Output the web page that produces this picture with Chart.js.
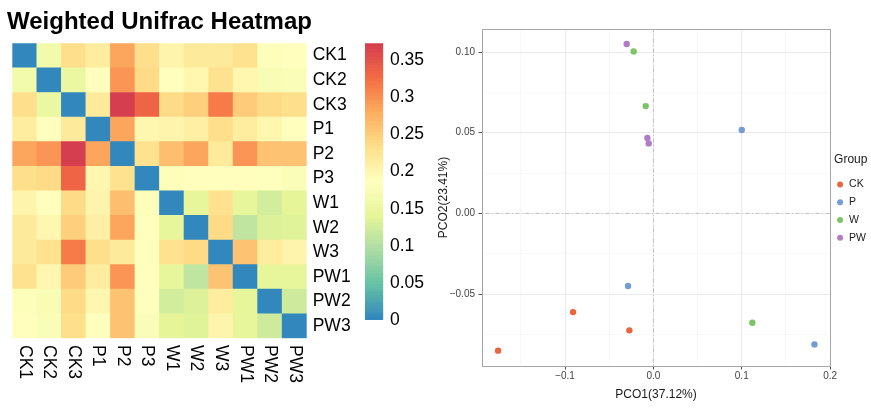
<!DOCTYPE html>
<html><head><meta charset="utf-8">
<script src="https://cdn.jsdelivr.net/npm/chart.js@4.4.1/dist/chart.umd.min.js"></script>
<style>
html,body{margin:0;padding:0;background:#fff;width:871px;height:420px;overflow:hidden;position:relative;}
canvas{position:absolute;top:0;}
#heat{left:0;} #bar{left:355px;} #pcoa{left:430px;}
</style></head><body>
<canvas id="heat" width="350" height="420" style="width:350px;height:420px"></canvas>
<canvas id="bar" width="95" height="420" style="width:95px;height:420px"></canvas>
<canvas id="pcoa" width="446" height="420" style="width:446px;height:420px"></canvas>
<script>
// ---------------- data ----------------
const sampleLabels = ['CK1','CK2','CK3','P1','P2','P3','W1','W2','W3','PW1','PW2','PW3'];
const distCK1 = [0,     0.163, 0.232, 0.213, 0.285, 0.232, 0.205, 0.218, 0.220, 0.228, 0.180, 0.188];
const distCK2 = [0.163, 0,     0.150, 0.190, 0.298, 0.238, 0.190, 0.200, 0.230, 0.200, 0.172, 0.178];
const distCK3 = [0.232, 0.150, 0,     0.217, 0.370, 0.335, 0.237, 0.248, 0.314, 0.252, 0.237, 0.233];
const distP1  = [0.213, 0.190, 0.217, 0,     0.285, 0.200, 0.205, 0.210, 0.233, 0.215, 0.200, 0.190];
const distP2  = [0.285, 0.298, 0.370, 0.285, 0,     0.228, 0.262, 0.287, 0.217, 0.298, 0.260, 0.260];
const distP3  = [0.232, 0.238, 0.335, 0.200, 0.228, 0,     0.182, 0.190, 0.190, 0.188, 0.185, 0.178];
const distW1  = [0.205, 0.190, 0.237, 0.205, 0.262, 0.182, 0,     0.145, 0.228, 0.145, 0.125, 0.140];
const distW2  = [0.218, 0.200, 0.248, 0.210, 0.287, 0.190, 0.145, 0,     0.237, 0.110, 0.132, 0.138];
const distW3  = [0.220, 0.230, 0.314, 0.233, 0.217, 0.190, 0.228, 0.237, 0,     0.258, 0.215, 0.205];
const distPW1 = [0.228, 0.200, 0.252, 0.215, 0.298, 0.188, 0.145, 0.110, 0.258, 0,     0.145, 0.143];
const distPW2 = [0.180, 0.172, 0.237, 0.200, 0.260, 0.185, 0.125, 0.132, 0.215, 0.145, 0,     0.123];
const distPW3 = [0.188, 0.178, 0.233, 0.190, 0.260, 0.178, 0.140, 0.138, 0.205, 0.143, 0.123, 0];
const distanceRows = [distCK1, distCK2, distCK3, distP1, distP2, distP3, distW1, distW2, distW3, distPW1, distPW2, distPW3];

const colorMax = 0.373;
const colorbarTicks = [0, 0.05, 0.1, 0.15, 0.2, 0.25, 0.3, 0.35];

const groupNames = ['CK', 'P', 'W', 'PW'];
const ckX = [-0.1758, -0.0909, -0.0272];
const ckY = [-0.0851, -0.0612, -0.0725];
const pX  = [0.1000, -0.0287, 0.1823];
const pY  = [0.0517, -0.0450, -0.0812];
const wX  = [-0.0223, -0.0087, 0.1120];
const wY  = [0.1004, 0.0665, -0.0678];
const pwX = [-0.0302, -0.0068, -0.0053];
const pwY = [0.1050, 0.0467, 0.0434];

const xRange = [-0.194, 0.2];
const yRange = [-0.0946, 0.1143];
const xMajorTicks = [-0.1, 0, 0.1, 0.2];
const xMinorTicks = [-0.15, -0.05, 0.05, 0.15];
const yMajorTicks = [-0.05, 0, 0.05, 0.1];
const yMinorTicks = [-0.075, -0.025, 0.025, 0.075];

// ---------------- styles ----------------
const FONT = '"Liberation Sans", Arial, Helvetica, sans-serif';
const spectralStops = ['#3288BD','#66C2A5','#ABDDA4','#E6F598','#FFFFBF','#FEE08B','#FDAE61','#F46D43','#D53E4F'];
const groupColors = ['#EA663F', '#739CD5', '#7DC465', '#B07CC6'];

function hexToRgb(h){ const n = parseInt(h.slice(1),16); return [(n>>16)&255,(n>>8)&255,n&255]; }
const stopRgb = spectralStops.map(hexToRgb);
function ramp(t){
  const s = Math.max(0, Math.min(1, t)) * (stopRgb.length - 1);
  const i = Math.min(stopRgb.length - 2, Math.floor(s));
  const f = s - i, a = stopRgb[i], b = stopRgb[i+1];
  return 'rgb(' + [0,1,2].map(j => Math.round(a[j] + (b[j]-a[j])*f)).join(',') + ')';
}
const nColors = 100;
function colorFor(v){
  let k = Math.floor(v / colorMax * nColors);
  k = Math.max(0, Math.min(nColors - 1, k));
  return ramp(k / (nColors - 1));
}

// ---------------- heatmap ----------------
const heatDatasets = sampleLabels.map((_, k) => {
  const r = sampleLabels.length - 1 - k;
  return {
    label: sampleLabels[r],
    data: sampleLabels.map(() => 1),
    backgroundColor: distanceRows[r].map(colorFor),
    borderWidth: 0,
    barPercentage: 1,
    categoryPercentage: 1
  };
});

const columnLabelPlugin = {
  id: 'columnLabels',
  afterDraw(chart) {
    const xs = chart.scales.x, ctx = chart.ctx;
    ctx.save();
    ctx.font = '17.5px ' + FONT;
    ctx.fillStyle = '#000';
    ctx.textAlign = 'left';
    ctx.textBaseline = 'middle';
    sampleLabels.forEach((lab, i) => {
      ctx.save();
      ctx.translate(xs.getPixelForValue(i), chart.chartArea.bottom + 6.7);
      ctx.rotate(Math.PI / 2);
      ctx.fillText(lab, 0, 0);
      ctx.restore();
    });
    ctx.restore();
  }
};

new Chart(document.getElementById('heat'), {
  type: 'bar',
  data: { labels: sampleLabels, datasets: heatDatasets },
  plugins: [columnLabelPlugin],
  options: {
    responsive: false, animation: false, events: [],
    layout: { padding: { left: 7, right: 0, top: 0, bottom: 81.7 } },
    plugins: {
      legend: { display: false }, tooltip: { enabled: false },
      title: { display: true, text: 'Weighted Unifrac Heatmap', align: 'start', color: '#000',
               font: { size: 24, weight: 'bold', family: FONT }, padding: { top: 8.4, bottom: 6.1 } }
    },
    scales: {
      x: { type: 'category', stacked: true, display: false },
      y: { type: 'linear', stacked: true, min: 0, max: sampleLabels.length, position: 'left',
           ticks: { display: false }, grid: { display: false, drawTicks: false }, border: { display: false },
           afterFit: s => { s.width = 5.3; } },
      rows: { type: 'category', labels: sampleLabels, position: 'right', offset: true,
              grid: { display: false, drawTicks: false }, border: { display: false },
              ticks: { color: '#000', font: { size: 17.5, family: FONT }, padding: 6, autoSkip: false },
              afterFit: s => { s.width = 43.3; } }
    }
  }
});

// ---------------- colour bar ----------------
new Chart(document.getElementById('bar'), {
  type: 'bar',
  data: { labels: [''], datasets: [{
    data: [colorMax], borderWidth: 0, barPercentage: 1, categoryPercentage: 1,
    backgroundColor(context) {
      const chart = context.chart;
      if (!chart.chartArea) return '#fff';
      const ys = chart.scales.y;
      const g = chart.ctx.createLinearGradient(0, ys.getPixelForValue(0), 0, ys.getPixelForValue(colorMax));
      for (let k = 0; k < nColors; k++) {
        const c = ramp(k / (nColors - 1));
        g.addColorStop(k / nColors, c);
        g.addColorStop((k + 1) / nColors, c);
      }
      return g;
    }
  }] },
  options: {
    responsive: false, animation: false, events: [],
    layout: { padding: { left: 10, right: 0, top: 43.3, bottom: 100 } },
    plugins: { legend: { display: false }, tooltip: { enabled: false } },
    scales: {
      x: { display: false },
      y: { position: 'right', min: 0, max: colorMax,
           afterBuildTicks: s => { s.ticks = colorbarTicks.map(v => ({ value: v })); },
           grid: { display: false, drawTicks: false }, border: { display: false },
           ticks: { color: '#000', font: { size: 17.5, family: FONT }, padding: 6.7, autoSkip: false,
                    callback: v => String(parseFloat(v.toFixed(2))) },
           afterFit: s => { s.width = 66.7; } }
    }
  }
});

// ---------------- PCoA scatter ----------------
const groupX = [ckX, pX, wX, pwX];
const groupY = [ckY, pY, wY, pwY];
const near = (arr, v) => arr.some(m => Math.abs(m - v) < 1e-9);
const minusSign = s => s.replace('-', '\u2212');

const pointSets = groupNames.map((name, g) => ({
  type: 'scatter',
  label: name,
  data: groupX[g].map((x, i) => ({ x: x, y: groupY[g][i] })),
  backgroundColor: groupColors[g],
  borderColor: groupColors[g],
  borderWidth: 0,
  pointStyle: 'circle',
  pointRadius: 3.2,
  order: 1
}));
const zeroLineStyle = { type: 'line', borderColor: '#BDBDBD', borderWidth: 1, borderDash: [1, 2.5, 4, 2.5],
                        pointRadius: 0, fill: false, order: 5 };
const zeroLines = [
  Object.assign({ label: '_vzero', data: [{ x: 0, y: yRange[0] }, { x: 0, y: yRange[1] }] }, zeroLineStyle),
  Object.assign({ label: '_hzero', data: [{ x: xRange[0], y: 0 }, { x: xRange[1], y: 0 }] }, zeroLineStyle)
];

function gridStyle(majors) {
  return {
    color: c => (c.tick && near(majors, c.tick.value)) ? '#EBEBEB' : '#F3F3F3',
    lineWidth: c => (c.tick && near(majors, c.tick.value)) ? 1 : 0.6,
    tickColor: c => (c.tick && near(majors, c.tick.value)) ? '#4D4D4D' : 'rgba(0,0,0,0)',
    tickLength: 3.5,
    drawTicks: true
  };
}

new Chart(document.getElementById('pcoa'), {
  type: 'scatter',
  data: { datasets: pointSets.concat(zeroLines) },
  options: {
    responsive: false, animation: false, events: [],
    layout: { padding: 0 },
    plugins: {
      tooltip: { enabled: false },
      legend: {
        position: 'right', align: 'center', fullSize: false,
        title: { display: true, text: 'Group', position: 'start', color: '#1A1A1A',
                 font: { size: 12, family: FONT }, padding: 9 },
        labels: {
          usePointStyle: true, pointStyle: 'circle', boxWidth: 7.5, boxHeight: 4.2, padding: 2.25,
          color: '#1A1A1A', font: { size: 10.5, family: FONT, lineHeight: '15.5px' },
          generateLabels(chart) {
            return Chart.defaults.plugins.legend.labels.generateLabels(chart)
              .filter(it => it.datasetIndex < groupNames.length)
              .map(it => Object.assign(it, { text: [it.text], lineWidth: 0 }));
          }
        }
      }
    },
    scales: {
      x: { type: 'linear', position: 'bottom', min: xRange[0], max: xRange[1],
           afterBuildTicks: s => { s.ticks = xMinorTicks.concat(xMajorTicks).sort((a, b) => a - b).map(v => ({ value: v })); },
           ticks: { autoSkip: false, maxRotation: 0, color: '#444', font: { size: 10, family: FONT }, padding: 0.5,
                    callback: v => near(xMajorTicks, v) ? minusSign(v.toFixed(1)) : '' },
           grid: gridStyle(xMajorTicks),
           border: { display: true, color: '#A6A6A6', width: 1 },
           title: { display: true, text: 'PCO1(37.12%)', color: '#1A1A1A', font: { size: 12, family: FONT },
                    padding: { top: 0, bottom: 17.8 } },
           afterFit: s => { s.height = 54; } },
      y: { type: 'linear', position: 'left', min: yRange[0], max: yRange[1],
           afterBuildTicks: s => { s.ticks = yMinorTicks.concat(yMajorTicks).sort((a, b) => a - b).map(v => ({ value: v })); },
           ticks: { autoSkip: false, color: '#444', font: { size: 10, family: FONT }, padding: 3.5,
                    callback: v => near(yMajorTicks, v) ? minusSign(v.toFixed(2)) : '' },
           grid: gridStyle(yMajorTicks),
           border: { display: true, color: '#A6A6A6', width: 1 },
           title: { display: true, text: 'PCO2(23.41%)', color: '#1A1A1A', font: { size: 12, family: FONT },
                    padding: { top: 6.8, bottom: 0 } },
           afterFit: s => { s.width = 52; } },
      xTop: { type: 'linear', position: 'top', min: xRange[0], max: xRange[1],
              ticks: { display: false }, grid: { display: false, drawTicks: false },
              border: { display: true, color: '#A6A6A6', width: 1 },
              afterFit: s => { s.height = 29; } },
      yRight: { type: 'linear', position: 'right', min: yRange[0], max: yRange[1],
                ticks: { display: false }, grid: { display: false, drawTicks: false },
                border: { display: true, color: '#A6A6A6', width: 1 },
                afterFit: s => { s.width = 4; } }
    }
  }
});
</script>
</body></html>
